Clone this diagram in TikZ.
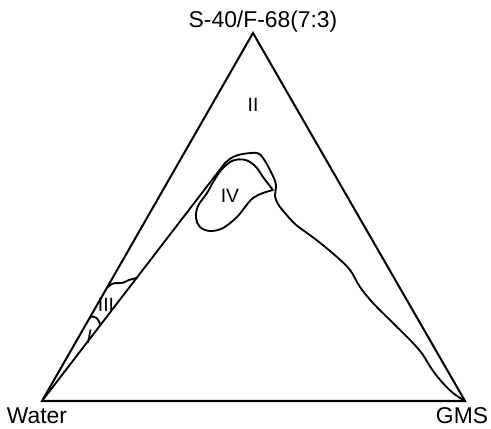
\documentclass[tikz,border=0pt]{standalone}
\usepackage{fontspec}
\setmainfont{Liberation Sans}
\usepackage{tikz}
\usetikzlibrary{positioning,calc}
\tikzset{
  edge/.style={draw=black,line width=1.15pt,line join=miter},
  phase/.style={draw=black,line width=1.05pt,line cap=round,line join=round},
  corner/.style={font=\fontsize{13}{15}\selectfont,inner sep=0pt},
  region/.style={font=\fontsize{11}{13}\selectfont,inner sep=0pt}
}
\begin{document}
\begin{tikzpicture}[x=0.02cm,y=-0.02cm]
  \useasboundingbox (0,0) rectangle (491,429);

  % Triangle corners
  \coordinate (water) at (42,401);
  \coordinate (gms) at (465,401);
  \coordinate (surf) at (253,33);

  \node[corner,anchor=base] (surflabel) at (263,28) {S-40/F-68(7:3)};
  \node[corner,anchor=base] (waterlabel) at (37,423) {Water};
  \node[corner,anchor=base] (gmslabel) at (462,423) {GMS};

  % Outer triangle
  \draw[edge] (water) -- (gms) -- (surf) -- cycle;

  % Phase boundary from Water to GMS
  \draw[phase] (water) -- (225,163)
    plot[smooth,tension=0.6] coordinates {(225,163) (233,157) (243,154) (257,153) (263,158) (270,170)
      (275,181) (276,188) (275,196) (278,204) (285,213) (295,224) (307,233) (319,242)
      (337,257) (350,270) (360,287) (373,303) (393,323) (413,343) (423,355) (431,368)
      (441,381) (453,393) (465,401)};

  % Region IV loop
  \draw[phase] plot[smooth,tension=0.6] coordinates {(273,190) (263,177) (257,168) (250,162) (243,159.5)
      (233,160.5) (223,168) (215,179) (207,193) (198,206) (196,218) (200,227) (210,231)
      (223,228) (237,217) (245,207) (253,198) (263,193) (273,190)};

  % Region III boundaries
  \draw[phase] plot[smooth,tension=0.6] coordinates {(107,288) (113,283.5) (122,283) (129,280) (136.5,278)};
  \draw[phase] plot[smooth,tension=0.6] coordinates {(89.6,318) (93,316.5) (97,318.5) (99,321.5) (100.4,325)};

  % Region labels
  \node[region] (r2) at (253,105) {II};
  \node[region] (r4) at (230,196) {IV};
  \node[region] (r3) at (106,305) {III};
  \node[region] (r1) at (89,337) {\itshape I};
\end{tikzpicture}
\end{document}
